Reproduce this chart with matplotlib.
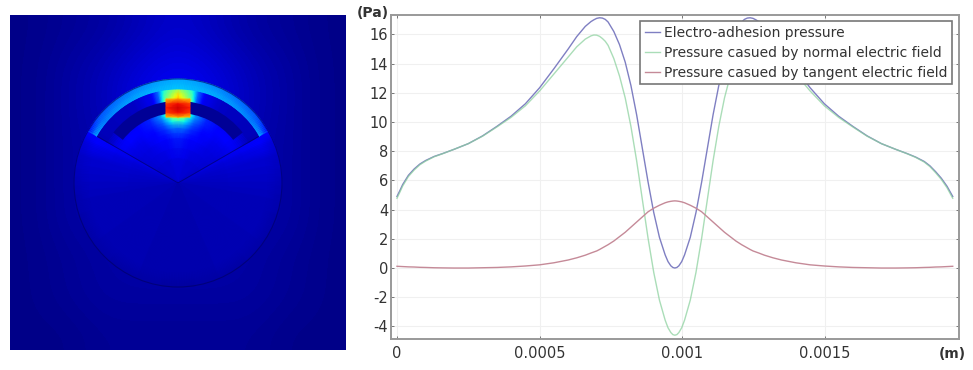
import numpy as np
import matplotlib
matplotlib.use("Agg")
import matplotlib.pyplot as plt
from matplotlib.patches import Wedge, Circle
from matplotlib.transforms import Affine2D

plt.rcParams["axes.unicode_minus"] = False

# curves (x in units of 0.001 m)
x_read = [0, .01, .02, .04, .06, .08, .10, .13, .16, .20, .25, .30, .35, .40, .45, .50, .55, .60,
          .63, .66, .68, .69, .70, .71, .72, .73, .74, .76, .78, .80, .82, .84, .86, .88, .90, .92, .94, .95, .96, .967, .974,
          .981, .988, .998, 1.008, 1.028, 1.048, 1.068, 1.088, 1.108, 1.128, 1.148, 1.168, 1.188, 1.208, 1.218, 1.228, 1.238, 1.248, 1.258,
          1.268, 1.288, 1.318, 1.348, 1.398, 1.448, 1.498, 1.548, 1.598, 1.648, 1.698, 1.748, 1.788, 1.818,
          1.848, 1.868, 1.888, 1.908, 1.928, 1.938, 1.948]
adhesion = [4.9, 5.3, 5.72, 6.35, 6.78, 7.12, 7.36, 7.64, 7.84, 8.13, 8.52, 9.05, 9.7, 10.4, 11.25, 12.35, 13.65, 15.0,
            15.85, 16.55, 16.88, 17.0, 17.1, 17.14, 17.12, 17.03, 16.85, 16.2, 15.3, 14.1, 12.5, 10.5, 8.2, 5.9, 3.8, 2.1, 0.9, 0.44, 0.15, 0.04, 0.0,
            0.04, 0.15, 0.44, 0.9, 2.1, 3.8, 5.9, 8.2, 10.5, 12.5, 14.1, 15.3, 16.2, 16.85, 17.03, 17.12, 17.14, 17.1, 17.0,
            16.88, 16.55, 15.85, 15.0, 13.65, 12.35, 11.25, 10.4, 9.7, 9.05, 8.52, 8.13, 7.84, 7.6,
            7.3, 7.0, 6.6, 6.15, 5.6, 5.25, 4.9]
normal = [4.78, 5.19, 5.62, 6.27, 6.71, 7.07, 7.32, 7.62, 7.83, 8.13, 8.52, 9.03, 9.66, 10.32, 11.11, 12.13, 13.29, 14.45,
          15.15, 15.68, 15.9, 15.96, 15.95, 15.87, 15.72, 15.53, 15.25, 14.35, 13.15, 11.65, 9.7, 7.35, 4.7, 2.05, -.3, -2.2, -3.57, -4.09, -4.42, -4.56, -4.6,
          -4.56, -4.42, -4.09, -3.57, -2.2, -.3, 2.05, 4.7, 7.35, 9.7, 11.65, 13.15, 14.35, 15.25, 15.53, 15.72, 15.87, 15.95, 15.96,
          15.9, 15.68, 15.15, 14.45, 13.29, 12.13, 11.11, 10.32, 9.66, 9.03, 8.52, 8.13, 7.83, 7.58,
          7.26, 6.95, 6.53, 6.07, 5.5, 5.14, 4.78]
tangent = [.12, .11, .10, .08, .07, .05, .04, .02, .01, 0, 0, .02, .04, .08, .14, .22, .36, .55,
           .7, .88, 1.03, 1.1, 1.17, 1.27, 1.38, 1.49, 1.6, 1.85, 2.15, 2.45, 2.8, 3.15, 3.5, 3.85, 4.1, 4.3, 4.47, 4.53, 4.57, 4.59, 4.6,
           4.59, 4.57, 4.53, 4.47, 4.3, 4.1, 3.85, 3.5, 3.15, 2.8, 2.45, 2.15, 1.85, 1.6, 1.49, 1.38, 1.27, 1.17, 1.1,
           1.03, .88, .7, .55, .36, .22, .14, .08, .04, .02, 0, 0, .01, .02,
           .04, .05, .07, .08, .10, .11, .12]
labels = ["Electro-adhesion pressure", "Pressure casued by normal electric field",
          "Pressure casued by tangent electric field"]
x_ticks = [0, 0.0005, 0.001, 0.0015]
x_ticklabels = ["0", "0.0005", "0.001", "0.0015"]
y_ticks = [-4, -2, 0, 2, 4, 6, 8, 10, 12, 14, 16]

# field map, jet values (0..1)
bg_field = [[.01, .02, .03, .05, .07, .05, .03, .02, .01],
            [.01, .03, .05, .08, .10, .08, .05, .03, .01],
            [.01, .03, .05, .09, .12, .09, .05, .03, .01],
            [.01, .03, .04, .07, .09, .07, .04, .03, .01],
            [.01, .03, .04, .05, .05, .05, .04, .03, .01],
            [.01, .03, .04, .04, .04, .04, .04, .03, .01],
            [.01, .02, .03, .04, .04, .04, .03, .02, .01],
            [.01, .02, .03, .03, .03, .03, .03, .02, .01],
            [.01, .01, .02, .02, .02, .02, .02, .01, .01]]

disc_r = [0, 50, 90, 104]
disc_off = [60, 66, 75, 100, 180]
disc_field = [[.09, .10, .13, .12],
              [.07, .08, .10, .08],
              [.06, .07, .07, .06],
              [.05, .05, .05, .04],
              [.04, .04, .04, .03]]

inner_r = [0, 25, 45, 55, 62, 68, 82]
inner_off = [0, 5, 9, 15, 25, 40, 60]
inner_field = [[.07, .09, .15, .23, .40, .66, .70],
               [.07, .09, .15, .23, .38, .60, .60],
               [.07, .09, .14, .21, .32, .44, .45],
               [.07, .09, .13, .17, .22, .27, .20],
               [.07, .08, .11, .13, .15, .16, .10],
               [.07, .08, .09, .10, .12, .12, .08],
               [.06, .07, .08, .09, .10, .10, .05]]

upper_r = [82, 87, 93]
upper_off = [0, 9, 13, 18, 30, 60]
upper_field = [[.74, .68, .56],
               [.50, .45, .40],
               [.22, .22, .22],
               [.10, .10, .10],
               [.06, .06, .06],
               [.05, .05, .05]]

ring_r = [93, 104]
ring_off = [0, 10, 30, 50, 60]
ring_field = [[.32, .29],
              [.31, .28],
              [.29, .24],
              [.26, .20],
              [.30, .12]]

block_field = [[.70, .74, .70],
               [.84, .90, .84],
               [.88, .93, .88],
               [.84, .90, .84],
               [.70, .74, .70]]
block_x = [166, 178, 190]
block_y = [99, 104, 108, 113, 117]

cx, cy = 178, 183


def polar_mesh(ax, rs, offs, table):
    # table rows are angle offsets from the top of the circle, same on both sides
    table = np.array(table, dtype=float)
    fine = np.arange(offs[0], offs[-1] + 1, 1.0)
    vals = np.column_stack([np.interp(fine, offs, table[:, i]) for i in range(table.shape[1])])
    for side in (-1, 1):
        T = np.radians(90 + side * fine)
        R, T = np.meshgrid(rs, T)
        ax.pcolormesh(cx + R * np.cos(T), cy - R * np.sin(T), vals, shading="gouraud",
                      cmap="jet", vmin=0, vmax=1)


fig = plt.figure(figsize=(9.73, 3.70), dpi=100)

# left panel
ax0 = fig.add_axes([10 / 973, 20 / 370, 335 / 973, 335 / 370])
ax0.imshow(bg_field, extent=(10, 345, 350, 15), cmap="jet", vmin=0, vmax=1, interpolation="bicubic", aspect="auto")
polar_mesh(ax0, disc_r, disc_off, disc_field)
polar_mesh(ax0, ring_r, ring_off, ring_field)
polar_mesh(ax0, inner_r, inner_off, inner_field)
polar_mesh(ax0, upper_r, upper_off, upper_field)
jet = plt.get_cmap("jet")
ax0.add_patch(Wedge((cx, -cy), 82, 38, 142, width=12, fc=jet(.02), ec="none",
                    transform=Affine2D().scale(1, -1) + ax0.transData))
ax0.pcolormesh(block_x, block_y, block_field, shading="gouraud", cmap="jet", vmin=0, vmax=1)
ax0.add_patch(Circle((cx, cy), 104, fc="none", ec="#000060", lw=.8, alpha=.6))
for t in np.radians([30, 150]):
    ax0.plot([cx, cx + 93 * np.cos(t)], [cy, cy - 93 * np.sin(t)], color="#000070", lw=.7, alpha=.7)
ax0.set_xlim(10, 345)
ax0.set_ylim(350, 15)
ax0.axis("off")

# right panel
ax = fig.add_axes([391 / 973, (370 - 339) / 370, 568 / 973, 324 / 370])
x_m = np.array(x_read) * 0.001
ax.plot(x_m, adhesion, color="#7f7fc2", lw=1, label=labels[0])
ax.plot(x_m, normal, color="#8ed2a0", lw=1, alpha=.75, label=labels[1])
ax.plot(x_m, tangent, color="#c58a98", lw=1, label=labels[2])
ax.set_xlim(-0.000021, 0.00197)
ax.set_ylim(-4.86, 17.33)
ax.set_xticks(x_ticks)
ax.set_xticklabels(x_ticklabels)
ax.set_yticks(y_ticks)
ax.grid(color="#f0f0f0", lw=.8)
ax.set_axisbelow(True)
ax.tick_params(direction="in", length=2, width=.7, color="#777777", labelcolor="#333333",
               labelsize=10.5, top=True, right=True)
ax.tick_params(axis="y", pad=2)
ax.tick_params(axis="x", pad=5)
for s in ax.spines.values():
    s.set_color("#999999")
    s.set_linewidth(1.4)
leg = ax.legend(loc="upper right", bbox_to_anchor=((952 - 391) / 568, (339 - 21) / 324), borderaxespad=0,
                fontsize=10, fancybox=False, framealpha=1, edgecolor="#777777", handlelength=1.1,
                handletextpad=.25, labelspacing=.42, borderpad=.35)
leg.get_frame().set_linewidth(1.2)
for txt in leg.get_texts():
    txt.set_color("#333333")

fig.text(357 / 973, 1 - 13 / 370, "(Pa)", fontsize=10, fontweight="bold", color="#333333", va="center")
fig.text(939 / 973, 1 - 354 / 370, "(m)", fontsize=10, fontweight="bold", color="#333333", va="center")

fig.savefig("out.png", dpi=100)
